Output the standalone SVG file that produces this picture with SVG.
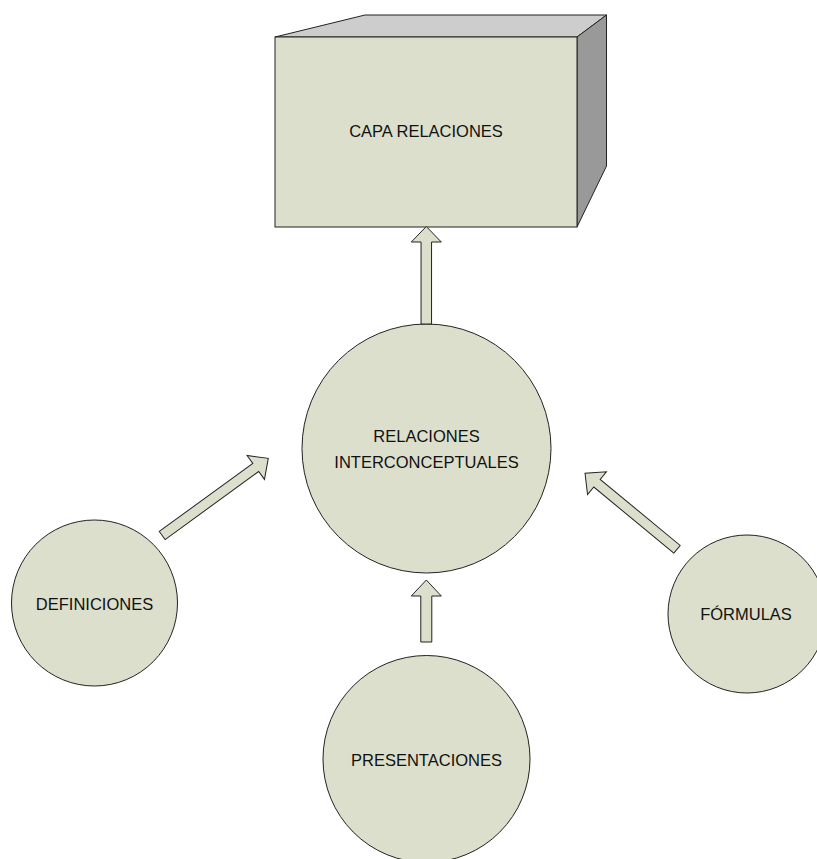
<svg xmlns="http://www.w3.org/2000/svg" width="817" height="859" viewBox="0 0 817 859">
<defs>
<style>
.shape{fill:#DCDFCB;stroke:#222;stroke-width:1}
.top{fill:#CDCDCD;stroke:#222;stroke-width:1}
.side{fill:#999999;stroke:#222;stroke-width:1}
.lbl{font-family:"Liberation Sans",Arial,sans-serif;font-size:16.5px;fill:#111;text-anchor:middle}
.arrow{fill:#DCDFCB;stroke:#222;stroke-width:1;stroke-linejoin:miter}
</style>
</defs>
<rect width="817" height="859" fill="#fff"/>
<g id="capa-relaciones">
<polygon class="top" points="275,37 365,15 606.5,15 577,37"/>
<polygon class="side" points="577,37 606.5,15 606.5,166 577,227"/>
<rect class="shape" x="275" y="37" width="302" height="190"/>
<text class="lbl" x="426" y="137">CAPA RELACIONES</text>
</g>
<g id="relaciones-interconceptuales">
<circle class="shape" cx="426.5" cy="448.5" r="124.5"/>
<text class="lbl" x="426.5" y="442">RELACIONES</text>
<text class="lbl" x="426.5" y="468">INTERCONCEPTUALES</text>
</g>
<g id="definiciones">
<circle class="shape" cx="94.5" cy="603" r="83"/>
<text class="lbl" x="94.5" y="610">DEFINICIONES</text>
</g>
<g id="presentaciones">
<circle class="shape" cx="426.5" cy="759" r="103.5"/>
<text class="lbl" x="426.5" y="766">PRESENTACIONES</text>
</g>
<g id="formulas">
<circle class="shape" cx="747" cy="614" r="79"/>
<text class="lbl" x="746" y="620">FÓRMULAS</text>
</g>
<g id="connectors">
<polygon class="arrow" transform="translate(426.3,324) rotate(-90)" points="0,-5.25 82,-5.25 82,-15 97.5,0 82,15 82,5.25 0,5.25"/>
<polygon class="arrow" transform="translate(426.3,642) rotate(-90)" points="0,-5.5 46,-5.5 46,-15 62,0 46,15 46,5.5 0,5.5"/>
<polygon class="arrow" transform="translate(162.2,535.5) rotate(-36.04)" points="0,-5 115.7,-5 115.7,-14.8 131.2,0 115.7,14.8 115.7,5 0,5"/>
<polygon class="arrow" transform="translate(677,549.3) rotate(-140.44)" points="0,-5 103.8,-5 103.8,-14.8 119.3,0 103.8,14.8 103.8,5 0,5"/>
</g>
</svg>
